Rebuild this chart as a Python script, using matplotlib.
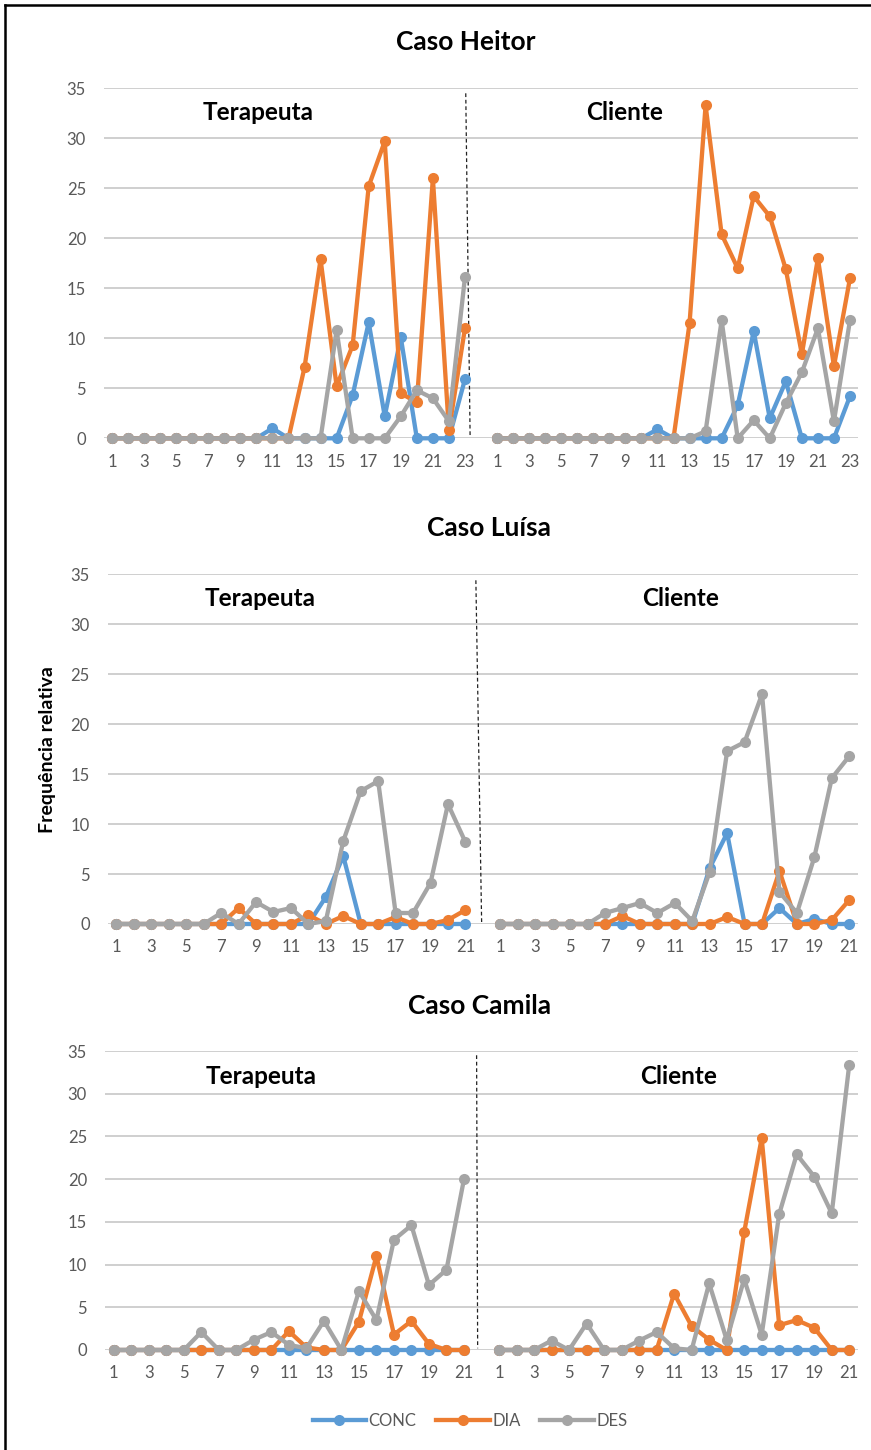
import matplotlib
matplotlib.use('Agg')
import matplotlib.pyplot as plt
from matplotlib.lines import Line2D
import numpy as np

plt.rcParams['font.family'] = ['Lato', 'DejaVu Sans']

# ---------------- data ----------------
series_names = ['CONC', 'DIA', 'DES']
series_colors = ['#5B9BD5', '#ED7D31', '#A5A5A5']

heitor_sessions = list(range(1, 24))
heitor_ter_conc = [0, 0, 0, 0, 0, 0, 0, 0, 0, 0, 1.0, 0, 0, 0, 0, 4.3, 11.6, 2.2, 10.1, 0, 0, 0, 5.9]
heitor_ter_dia = [0, 0, 0, 0, 0, 0, 0, 0, 0, 0, 0, 0, 7.1, 17.9, 5.2, 9.3, 25.2, 29.7, 4.5, 3.6, 26.0, 0.8, 11.0]
heitor_ter_des = [0, 0, 0, 0, 0, 0, 0, 0, 0, 0, 0, 0, 0, 0, 10.8, 0, 0, 0, 2.2, 4.8, 4.0, 1.7, 16.1]
heitor_cli_conc = [0, 0, 0, 0, 0, 0, 0, 0, 0, 0, 0.9, 0, 0, 0, 0, 3.3, 10.7, 2.0, 5.7, 0, 0, 0, 4.2]
heitor_cli_dia = [0, 0, 0, 0, 0, 0, 0, 0, 0, 0, 0, 0, 11.5, 33.3, 20.4, 17.0, 24.2, 22.2, 16.9, 8.4, 18.0, 7.2, 16.0]
heitor_cli_des = [0, 0, 0, 0, 0, 0, 0, 0, 0, 0, 0, 0, 0, 0.7, 11.8, 0, 1.8, 0, 3.5, 6.6, 11.0, 1.7, 11.8]

luisa_sessions = list(range(1, 22))
luisa_ter_conc = [0, 0, 0, 0, 0, 0, 0, 0, 0, 0, 0, 0, 2.7, 6.8, 0, 0, 0, 0, 0, 0, 0]
luisa_ter_dia = [0, 0, 0, 0, 0, 0, 0, 1.6, 0, 0, 0, 0.9, 0, 0.8, 0, 0, 0.7, 0, 0, 0.4, 1.4]
luisa_ter_des = [0, 0, 0, 0, 0, 0, 1.1, 0, 2.2, 1.2, 1.6, 0, 0.3, 8.3, 13.3, 14.3, 1.1, 1.1, 4.1, 12.0, 8.2]
luisa_cli_conc = [0, 0, 0, 0, 0, 0, 0, 0, 0, 0, 0, 0, 5.6, 9.1, 0, 0, 1.6, 0, 0.5, 0, 0]
luisa_cli_dia = [0, 0, 0, 0, 0, 0, 0, 0.8, 0, 0, 0, 0, 0, 0.7, 0, 0, 5.3, 0, 0, 0.4, 2.4]
luisa_cli_des = [0, 0, 0, 0, 0, 0, 1.1, 1.6, 2.1, 1.1, 2.1, 0.3, 5.2, 17.3, 18.2, 23.0, 3.2, 1.1, 6.7, 14.6, 16.8]

camila_sessions = list(range(1, 22))
camila_ter_conc = [0, 0, 0, 0, 0, 0, 0, 0, 0, 0, 0, 0, 0, 0, 0, 0, 0, 0, 0, 0, 0]
camila_ter_dia = [0, 0, 0, 0, 0, 0, 0, 0, 0, 0, 2.2, 0.3, 0, 0, 3.3, 11.0, 1.8, 3.4, 0.7, 0, 0]
camila_ter_des = [0, 0, 0, 0, 0, 2.1, 0, 0, 1.2, 2.1, 0.6, 0.2, 3.4, 0, 6.9, 3.5, 12.9, 14.6, 7.6, 9.4, 20.0]
camila_cli_conc = [0, 0, 0, 0, 0, 0, 0, 0, 0, 0, 0, 0, 0, 0, 0, 0, 0, 0, 0, 0, 0]
camila_cli_dia = [0, 0, 0, 0, 0, 0, 0, 0, 0, 0, 6.6, 2.8, 1.2, 0, 13.8, 24.8, 2.9, 3.5, 2.6, 0, 0]
camila_cli_des = [0, 0, 0, 1.1, 0, 3.1, 0, 0, 1.1, 2.1, 0.2, 0, 7.8, 1.2, 8.3, 1.8, 15.9, 22.9, 20.3, 16.0, 33.4]

titles = ['Caso Heitor', 'Caso Luísa', 'Caso Camila']
half_labels = ['Terapeuta', 'Cliente']
y_label = 'Frequência relativa'

# ---------------- layout ----------------
W, H = 871, 1450
fig = plt.figure(figsize=(W / 100, H / 100), dpi=100)


def fx(px):
    return px / W


def fy(py):
    return 1 - py / H


TICK_COLOR = '#595959'
LW = 3.1
MS = 8.0

panels = [
    dict(title=titles[0], sessions=heitor_sessions,
         ter=[heitor_ter_conc, heitor_ter_dia, heitor_ter_des],
         cli=[heitor_cli_conc, heitor_cli_dia, heitor_cli_des],
         box=(104, 858, 88.3, 438.3), title_pos=(466, 42),
         sub_pos=[(258, 113), (625, 113)], dash=(22.05, 22.32, 34.5, 0.3)),
    dict(title=titles[1], sessions=luisa_sessions,
         ter=[luisa_ter_conc, luisa_ter_dia, luisa_ter_des],
         cli=[luisa_cli_conc, luisa_cli_dia, luisa_cli_des],
         box=(107.7, 858, 574.3, 924), title_pos=(489, 528),
         sub_pos=[(260, 599), (681, 599)], dash=(20.6, 20.93, 34.4, 0.2)),
    dict(title=titles[2], sessions=camila_sessions,
         ter=[camila_ter_conc, camila_ter_dia, camila_ter_des],
         cli=[camila_cli_conc, camila_cli_dia, camila_cli_des],
         box=(105, 858, 1051, 1350), title_pos=(480, 1006),
         sub_pos=[(261, 1077), (679, 1077)], dash=(20.72, 20.78, 34.5, 0.2)),
]

for p in panels:
    l, r, t, b = p['box']
    ax = fig.add_axes([fx(l), fy(b), (r - l) / W, (b - t) / H])
    n = len(p['sessions'])
    total = 2 * n + 1
    x = np.arange(total)
    for k in range(3):
        y = np.full(total, np.nan)
        y[:n] = p['ter'][k]
        y[n + 1:] = p['cli'][k]
        ax.plot(x, y, color=series_colors[k], lw=LW, marker='o', ms=MS,
                markeredgewidth=0, solid_capstyle='round', solid_joinstyle='round',
                zorder=3 + k, clip_on=False)
    ax.set_xlim(-0.5, total - 0.5)
    ax.set_ylim(0, 35)
    ax.set_yticks(np.arange(0, 36, 5))
    ticks = list(range(0, n, 2)) + list(range(n + 1, total, 2))
    labels = [str(p['sessions'][i]) for i in range(0, n, 2)] + \
             [str(p['sessions'][i - n - 1]) for i in range(n + 1, total, 2)]
    ax.set_xticks(ticks)
    ax.set_xticklabels(labels)
    ax.grid(axis='y', color='#CCCCCC', lw=1.3, zorder=0)
    ax.set_axisbelow(True)
    for s in ax.spines.values():
        s.set_visible(False)
    ax.tick_params(axis='both', length=0, labelsize=12, colors=TICK_COLOR)
    ax.tick_params(axis='y', pad=13)
    ax.tick_params(axis='x', pad=11)
    # dashed separator
    x0, x1, y0, y1 = p['dash']
    ax.plot([x0, x1], [y0, y1], color='#222222', lw=0.9, ls=(0, (3, 2.2)), zorder=2)
    # titles
    fig.text(fx(p['title_pos'][0]), fy(p['title_pos'][1]), p['title'],
             ha='center', va='center', fontsize=19, fontweight='bold', color='black')
    for (sx, sy), lab in zip(p['sub_pos'], half_labels):
        fig.text(fx(sx), fy(sy), lab, ha='center', va='center', fontsize=17.5,
                 fontweight='bold', color='black')

# y label
fig.text(fx(48), fy(750), y_label, rotation=90, ha='center', va='center',
         fontsize=14, fontweight='bold', color='black')

# legend
handles = [Line2D([0], [0], color=c, lw=LW, marker='o', ms=MS, markeredgewidth=0)
           for c in series_colors]
leg = fig.legend(handles, series_names, loc='center', bbox_to_anchor=(fx(470), fy(1421)),
                 ncol=3, frameon=False, handlelength=3.2, handletextpad=0.15,
                 columnspacing=1.2, fontsize=12)
for txt in leg.get_texts():
    txt.set_color(TICK_COLOR)

# frame (left and top border)
fig.add_artist(Line2D([fx(5), fx(5)], [fy(5), fy(1450)], transform=fig.transFigure,
                      color='black', lw=1.8))
fig.add_artist(Line2D([fx(5), fx(871)], [fy(5), fy(5)], transform=fig.transFigure,
                      color='black', lw=1.8))

fig.savefig('out.png', dpi=100)
